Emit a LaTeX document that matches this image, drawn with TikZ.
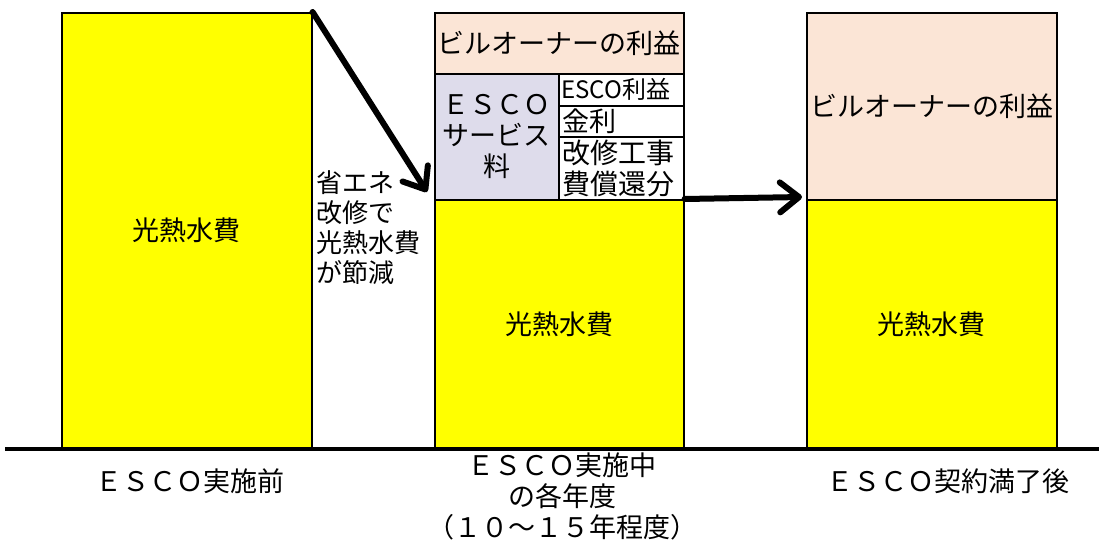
\documentclass[tikz,border=0pt]{standalone}
\usepackage{fontspec}
\setmainfont{Noto Sans CJK JP}
\usetikzlibrary{arrows.meta}
\definecolor{ylw}{HTML}{FFFF00}
\definecolor{pnk}{HTML}{FBE5D6}
\definecolor{lav}{HTML}{DEDCEB}
\begin{document}
\begin{tikzpicture}[x=1pt,y=-1pt,
  box/.style={draw=black, line width=1.6pt, inner sep=0pt, anchor=north west},
  txt/.style={inner sep=0pt},
  arr/.style={line width=6pt, line cap=round, -{Straight Barb[length=19pt,width=30pt,line cap=round,line join=round]}}]
\useasboundingbox (0,0) rectangle (1099,541);
\fill[white] (0,0) rectangle (1099,541);
% left column
\node[box, fill=ylw, minimum width=250pt, minimum height=435pt, font=\fontsize{27}{30}\selectfont] (b1) at (61,12) {光熱水費};
% middle column
\node[box, fill=pnk, minimum width=249pt, minimum height=61pt, font=\fontsize{27}{30}\selectfont] (m1) at (434,12) {ビルオーナーの利益};
\node[box, fill=lav, minimum width=124pt, minimum height=126pt, align=center, font=\fontsize{27}{31}\selectfont] (m2) at (434,73) {ＥＳＣＯ\\サービス\\料};
\node[box, fill=white, minimum width=125pt, minimum height=32pt] (m3) at (558,73) {};
\node[box, fill=white, minimum width=125pt, minimum height=31pt] (m4) at (558,105) {};
\node[box, fill=white, minimum width=125pt, minimum height=63pt] (m5) at (558,136) {};
\node[box, fill=ylw, minimum width=249pt, minimum height=248pt, font=\fontsize{27}{30}\selectfont] (m6) at (434,199) {光熱水費};
\node[txt, anchor=west, font=\fontsize{24}{26}\selectfont] (t3) at ([xshift=3pt]m3.west) {ESCO利益};
\node[txt, anchor=west, font=\fontsize{27}{30}\selectfont] (t4) at ([xshift=4pt]m4.west) {金利};
\node[txt, anchor=west, align=left, font=\fontsize{28}{31}\selectfont] (t5) at ([xshift=4pt]m5.west) {改修工事\\費償還分};
% right column
\node[box, fill=pnk, minimum width=250pt, minimum height=187pt, font=\fontsize{27}{30}\selectfont] (r1) at (806,12) {ビルオーナーの利益};
\node[box, fill=ylw, minimum width=250pt, minimum height=248pt, font=\fontsize{27}{30}\selectfont] (r2) at (806,199) {光熱水費};
% note
\node[txt, anchor=north west, align=left, font=\fontsize{26}{30}\selectfont] (note) at (316,170) {省エネ\\改修で\\光熱水費\\が節減};
% ground line
\coordinate (g0) at (5,449);
\coordinate (g1) at (1099,449);
\draw[line width=4pt] (g0) -- (g1);
% arrows
\draw[arr] (b1.north east) -- ([shift={(-7pt,7pt)}]m6.north west);
\draw[arr] (m6.north east) -- ([shift={(-4pt,2pt)}]r2.north west);
% labels
\node[txt, font=\fontsize{27}{31}\selectfont] (L1) at (190,481) {ＥＳＣＯ実施前};
\node[txt, align=center, font=\fontsize{27}{31}\selectfont] (L2) at (562,496) {ＥＳＣＯ実施中\\の各年度\\（１０～１５年程度）};
\node[txt, font=\fontsize{27}{31}\selectfont] (L3) at (948,481) {ＥＳＣＯ契約満了後};
\end{tikzpicture}
\end{document}
